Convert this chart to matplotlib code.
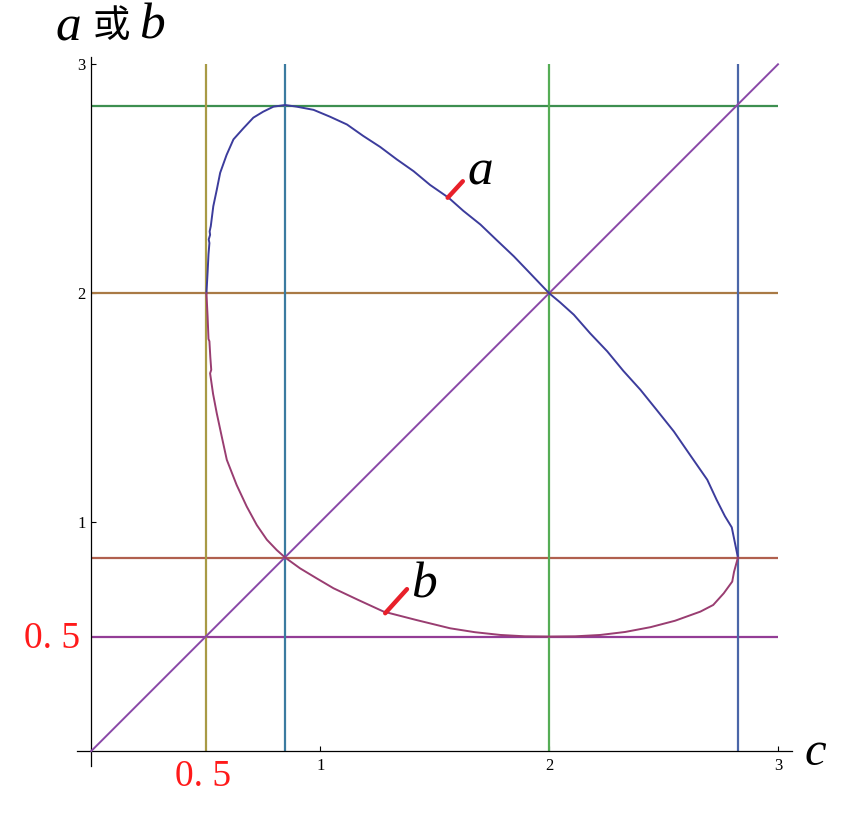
import numpy as np
import matplotlib
matplotlib.use("Agg")
import matplotlib.pyplot as plt

# curve a (upper branch) : c -> a
a_c = [0.503, 0.508, 0.512, 0.516, 0.513, 0.519, 0.517, 0.522, 0.533, 0.548,
       0.563, 0.591, 0.621, 0.664, 0.708, 0.751, 0.796, 0.847, 0.897, 0.971,
       1.043, 1.117, 1.188, 1.262, 1.334, 1.408, 1.480, 1.561, 1.625, 1.700,
       1.771, 1.846, 1.917, 2.000, 2.048, 2.108, 2.179, 2.254, 2.324, 2.399,
       2.470, 2.545, 2.616, 2.691, 2.732, 2.768, 2.798, 2.825]
a_val = [2.000, 2.090, 2.170, 2.219, 2.235, 2.255, 2.270, 2.293, 2.380, 2.451,
         2.526, 2.604, 2.672, 2.720, 2.767, 2.793, 2.815, 2.822, 2.815, 2.801,
         2.771, 2.737, 2.687, 2.639, 2.585, 2.533, 2.473, 2.417, 2.360, 2.300,
         2.232, 2.161, 2.087, 2.000, 1.960, 1.906, 1.825, 1.746, 1.661, 1.578,
         1.490, 1.396, 1.293, 1.185, 1.097, 1.026, 0.977, 0.845]

# curve b (lower branch) : c -> b
b_c = [0.503, 0.508, 0.512, 0.516, 0.520, 0.524, 0.519, 0.532, 0.548, 0.570,
       0.592, 0.635, 0.679, 0.723, 0.767, 0.810, 0.847, 0.912, 0.985, 1.058,
       1.166, 1.277, 1.421, 1.568, 1.676, 1.787, 1.895, 2.006, 2.114, 2.224,
       2.332, 2.443, 2.550, 2.661, 2.717, 2.763, 2.800, 2.808, 2.825]
b_val = [2.000, 1.900, 1.800, 1.790, 1.720, 1.665, 1.650, 1.560, 1.476, 1.373,
         1.272, 1.162, 1.068, 0.987, 0.923, 0.878, 0.845, 0.798, 0.754, 0.711,
         0.660, 0.609, 0.572, 0.536, 0.519, 0.507, 0.501, 0.500, 0.501, 0.507,
         0.520, 0.541, 0.569, 0.609, 0.638, 0.689, 0.740, 0.783, 0.845]

# reference lines
h_levels = [2.82, 2.0, 0.845, 0.5]
h_colors = ["#3d8f50", "#a97a45", "#b0604e", "#933d96"]
v_levels = [0.5, 0.845, 2.0, 2.825]
v_colors = ["#a89a45", "#3b7ba0", "#55ad55", "#4a66a8"]
diag = [0, 3]

ticks = [1, 2, 3]

# red pointer strokes to the curve labels
ptr_a = ([1.557, 1.623], [2.417, 2.489])
ptr_b = ([1.284, 1.379], [0.602, 0.707])

W, H = 857, 815
fig = plt.figure(figsize=(W / 100, H / 100), dpi=100)
ax = fig.add_axes([0, 0, 1, 1])

unit = 228.9
x0, y0 = 91.3, 751.0
ax.set_xlim(-x0 / unit, (W - x0) / unit)
ax.set_ylim(-(H - y0) / unit, y0 / unit)

ax.hlines(h_levels, 0, 3, colors=h_colors, lw=1.6, zorder=2)
ax.vlines(v_levels, 0, 3, colors=v_colors, lw=1.6, zorder=2)
ax.plot(diag, diag, color="#8a48a8", lw=1.4, zorder=3)

ax.plot(a_c, a_val, color="#3c3c9c", lw=1.4, zorder=4)
ax.plot(b_c, b_val, color="#993d71", lw=1.4, zorder=4)

ax.plot(*ptr_a, color="#e8202a", lw=3.2, solid_capstyle="round", zorder=5)
ax.plot(*ptr_b, color="#e8202a", lw=3.2, solid_capstyle="round", zorder=5)

# axes through the origin
for s in ["top", "right"]:
    ax.spines[s].set_visible(False)
ax.spines["left"].set_position(("data", 0))
ax.spines["bottom"].set_position(("data", 0))
ax.spines["left"].set_bounds(-0.064, 3.03)
ax.spines["bottom"].set_bounds(-0.064, 3.06)
for s in ["left", "bottom"]:
    ax.spines[s].set_linewidth(0.9)
ax.set_xticks(ticks)
ax.set_yticks(ticks)
ax.tick_params(direction="in", length=3.3, width=0.8)
ax.tick_params(axis="x", pad=5)
ax.tick_params(axis="y", pad=4)
for lab in ax.get_xticklabels() + ax.get_yticklabels():
    lab.set_fontfamily("Liberation Serif")
    lab.set_fontsize(12)

def ftext(x, y, s, **kw):
    fig.text(x / W, 1 - y / H, s, ha="center", va="center", **kw)

serif_it = dict(family="Liberation Serif", style="italic")
ftext(68, 28, "a", fontsize=37, **serif_it)
ftext(111, 26, "或", fontsize=27, family="Noto Sans CJK SC")
ftext(152, 26, "b", fontsize=37, **serif_it)
ftext(815, 753, "c", fontsize=35, **serif_it)
ftext(480, 172, "a", fontsize=37, **serif_it)
ftext(424, 585, "b", fontsize=37, **serif_it)

ftext(52, 639, "0. 5", fontsize=27, color="#ff1a1a", family="Liberation Serif")
ftext(203, 777, "0. 5", fontsize=27, color="#ff1a1a", family="Liberation Serif")

fig.savefig("out.png", dpi=100)
